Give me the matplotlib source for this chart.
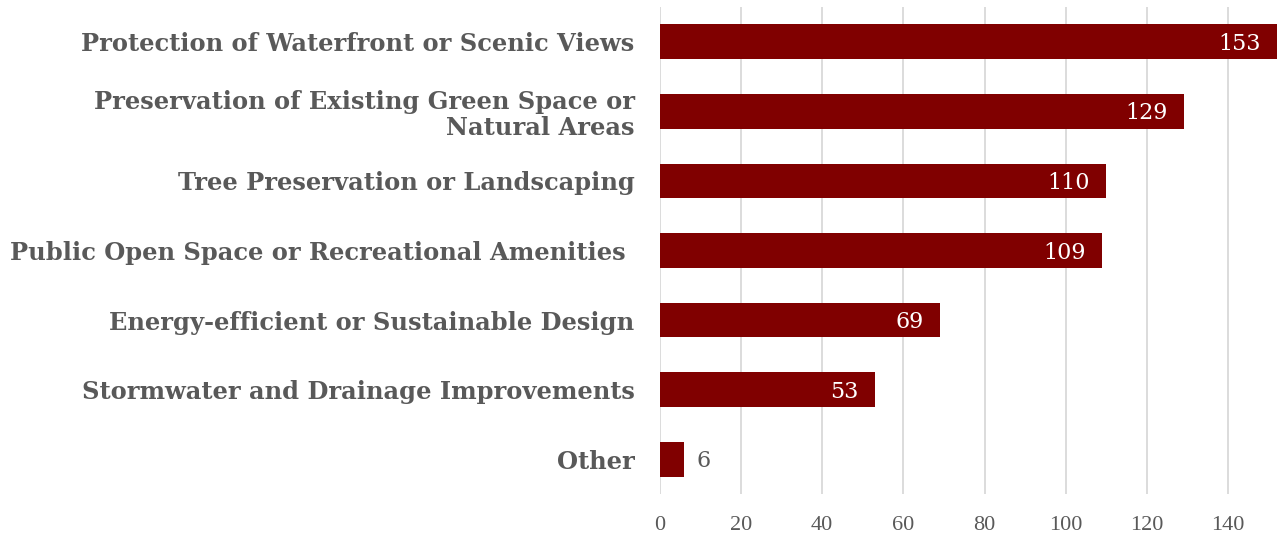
import matplotlib.pyplot as plt

categories = [
    'Protection of Waterfront or Scenic Views',
    'Preservation of Existing Green Space or\nNatural Areas',
    'Tree Preservation or Landscaping',
    'Public Open Space or Recreational Amenities ',
    'Energy-efficient or Sustainable Design',
    'Stormwater and Drainage Improvements',
    'Other',
]
counts = [153, 129, 110, 109, 69, 53, 6]
ticks = [0, 20, 40, 60, 80, 100, 120, 140]

bar_color = '#800000'
text_color = '#595959'
XMAX = 152

fig = plt.figure(figsize=(12.77, 5.37), dpi=100)
ax = fig.add_axes([659.5 / 1277, 43 / 537, 617.5 / 1277, 487 / 537])

pos = list(range(len(categories)))
ax.barh(pos, counts, height=0.5, color=bar_color, zorder=3)
ax.set_ylim(len(categories) - 0.5, -0.5)
ax.set_xlim(0, XMAX)

# value labels: inside the bar end (kept within the visible range), outside for tiny bars
for y, v in zip(pos, counts):
    if v > 20:
        ax.text(min(v, XMAX) - 4, y + 0.03, str(v), ha='right', va='center',
                color='white', fontsize=16, family='DejaVu Serif', zorder=4)
    else:
        ax.text(v + 3, y + 0.03, str(v), ha='left', va='center',
                color=text_color, fontsize=16, family='DejaVu Serif', zorder=4)

ax.set_yticks(pos)
ax.set_yticklabels(categories, fontsize=17.4, fontweight='bold', family='DejaVu Serif',
                   color=text_color, linespacing=1.1)
ax.set_xticks(ticks)
ax.set_xticklabels([str(t) for t in ticks], fontsize=16, family='Liberation Serif',
                   color=text_color)
ax.tick_params(axis='y', length=0, pad=18)
ax.tick_params(axis='x', length=0, pad=16)

ax.grid(axis='x', color='#d9d9d9', linewidth=1.3, zorder=0)
for s in ax.spines.values():
    s.set_visible(False)

fig.savefig('out.png', dpi=100)
